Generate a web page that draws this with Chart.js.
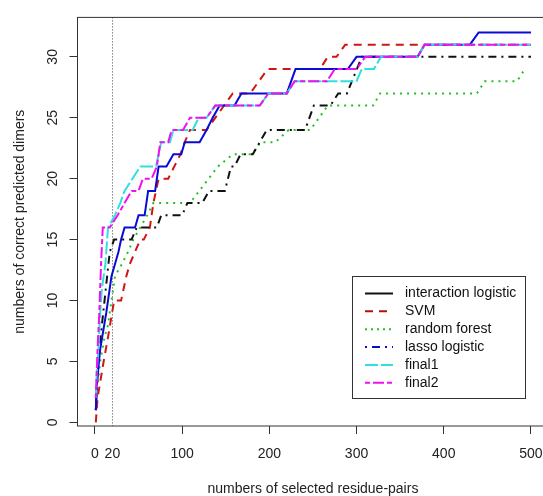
<!DOCTYPE html>
<html>
<head>
<meta charset="utf-8">
<script src="https://cdn.jsdelivr.net/npm/chart.js"></script>
<style>
  html, body { margin: 0; padding: 0; background: #fff; overflow: hidden; }
  #wrap { width: 560px; height: 496px; }
</style>
</head>
<body>
<div id="wrap"><canvas id="chart" width="560" height="496"></canvas></div>
<script>
// ----------------------------
// Values
// ----------------------------
const xTicks = [0, 20, 100, 200, 300, 400, 500];
const yTicks = [0, 5, 10, 15, 20, 25, 30];
const cutoff = 20;

const legendLabels = ["interaction logistic", "SVM", "random forest", "lasso logistic", "final1", "final2"];

// interaction logistic (black)
const interactionX = [1, 3, 5, 11, 17, 22, 42, 48, 71, 76, 100, 106, 123, 131, 149, 156, 160, 167, 181, 197, 241, 251, 270, 279, 289, 306, 500];
const interactionY = [1, 4, 6, 10, 14, 15, 15, 16, 16, 17, 17, 18, 18, 19, 19, 21, 21, 22, 22, 24, 24, 26, 26, 27, 27, 30, 30];

// SVM (red)
const svmX = [1, 3, 10, 15, 22, 30, 36, 40, 46, 52, 56, 63, 67, 73, 84, 98, 103, 109, 128, 158, 178, 198, 258, 267, 277, 287, 500];
const svmY = [0, 2, 5, 7, 10, 10, 12, 13, 14, 15, 15, 16, 18, 20, 20, 22, 23, 24, 24, 27, 27, 29, 29, 30, 30, 31, 31];

// random forest (green)
const forestX = [1, 3, 6, 11, 15, 19, 23, 31, 38, 44, 52, 60, 67, 109, 141, 158, 180, 190, 207, 222, 247, 267, 319, 327, 438, 447, 484, 493];
const forestY = [1, 3, 5, 7, 8, 10, 12, 13, 14, 15, 16, 17, 18, 18, 21, 22, 22, 23, 23, 24, 24, 26, 26, 27, 27, 28, 28, 29];

// lasso logistic (blue)
const lassoX = [1, 2, 6, 13, 19, 27, 30, 34, 46, 50, 57, 61, 69, 73, 82, 90, 99, 103, 120, 128, 135, 143, 160, 168, 220, 230, 290, 300, 370, 378, 430, 440, 500];
const lassoY = [1, 3, 6, 9, 12, 14, 15, 16, 16, 17, 17, 19, 19, 21, 21, 22, 22, 23, 23, 24, 25, 26, 26, 27, 27, 29, 29, 30, 30, 31, 31, 32, 32];

// final1 (cyan)
const final1X = [1, 2, 4, 6, 8, 12, 15, 23, 29, 34, 43, 52, 70, 76, 86, 90, 112, 119, 128, 138, 189, 199, 220, 229, 300, 306, 320, 328, 370, 378, 500];
const final1Y = [2, 4, 6, 9, 11, 13, 16, 17, 18, 19, 20, 21, 21, 23, 23, 24, 24, 25, 25, 26, 26, 27, 27, 28, 28, 29, 29, 30, 30, 31, 31];

// final2 (magenta)
const final2X = [1, 2, 3, 5, 6, 7, 9, 17, 26, 34, 42, 50, 55, 65, 71, 75, 84, 88, 101, 109, 128, 138, 189, 199, 220, 229, 266, 275, 300, 310, 370, 378, 500];
const final2Y = [2, 4, 6, 9, 11, 13, 16, 16, 17, 18, 19, 19, 20, 20, 21, 23, 23, 24, 24, 25, 25, 26, 26, 27, 27, 28, 28, 29, 29, 30, 30, 31, 31];

// ----------------------------
// Styles
// ----------------------------
const colors = ["#111111", "#d01515", "#22c022", "#0b0bd8", "#30e0e0", "#f010f0"];
const plotDash = [[2, 5, 8, 5], [8, 6], [2, 5], [], [13, 3], [5, 3, 11, 3]];
const legendDash = [[], [8, 6], [2, 4], [2, 5, 8, 5], [13, 3], [5, 3, 11, 3]];
const legendColors = ["#111111", "#b01515", "#22c022", "#0b0bd8", "#30e0e0", "#f010f0"];
const drawOrder = [4, 6, 5, 3, 2, 1];

const font = "'Liberation Sans', Arial, sans-serif";

function pts(xs, ys) {
  return xs.map((x, i) => ({ x: x, y: ys[i] }));
}

const series = [
  pts(interactionX, interactionY),
  pts(svmX, svmY),
  pts(forestX, forestY),
  pts(lassoX, lassoY),
  pts(final1X, final1Y),
  pts(final2X, final2Y)
];

// ----------------------------
// Box, cutoff line and legend
// ----------------------------
const framePlugin = {
  id: "frame",
  beforeDatasetsDraw(chart) {
    const { ctx, chartArea: a, scales: { x } } = chart;
    const px = Math.round(x.getPixelForValue(cutoff)) + 0.5;
    ctx.save();
    ctx.strokeStyle = "#444";
    ctx.lineWidth = 1;
    ctx.setLineDash([1, 2]);
    ctx.beginPath();
    ctx.moveTo(px, a.top);
    ctx.lineTo(px, a.bottom);
    ctx.stroke();
    ctx.restore();
  },
  afterDraw(chart) {
    const { ctx, chartArea: a } = chart;
    ctx.save();
    ctx.strokeStyle = "#333";
    ctx.lineWidth = 1;
    ctx.strokeRect(a.left, a.top, a.right - a.left, a.bottom - a.top);

    // legend
    const bx = 352.5, by = 276.5, bw = 173, bh = 122;
    ctx.fillStyle = "#fff";
    ctx.fillRect(bx, by, bw, bh);
    ctx.strokeRect(bx, by, bw, bh);
    ctx.font = "14px " + font;
    ctx.textBaseline = "middle";
    legendLabels.forEach((label, i) => {
      const y = 293.5 + i * 17.85;
      ctx.strokeStyle = legendColors[i];
      ctx.lineWidth = 2;
      ctx.setLineDash(legendDash[i]);
      ctx.beginPath();
      ctx.moveTo(365, y);
      ctx.lineTo(393, y);
      ctx.stroke();
      ctx.setLineDash([]);
      ctx.fillStyle = "#111";
      ctx.fillText(label, 405, y);
    });
    ctx.restore();
  }
};

// ----------------------------
// Chart
// ----------------------------
new Chart(document.getElementById("chart"), {
  type: "line",
  data: {
    datasets: series.map((data, i) => ({
      label: legendLabels[i],
      data: data,
      borderColor: colors[i],
      borderWidth: 2,
      borderDash: plotDash[i],
      pointRadius: 0,
      tension: 0,
      fill: false,
      order: drawOrder[i]
    }))
  },
  options: {
    responsive: false,
    animation: false,
    devicePixelRatio: 1,
    layout: { padding: { top: 10, right: 11.6, left: 0, bottom: 0 } },
    plugins: { legend: { display: false }, tooltip: { enabled: false } },
    scales: {
      x: {
        type: "linear",
        min: -20,
        max: 520,
        afterBuildTicks: (s) => { s.ticks = xTicks.map(v => ({ value: v })); },
        afterFit: (s) => { s.height = 70; },
        border: { display: false },
        grid: {
          drawOnChartArea: false,
          tickLength: 8,
          tickColor: (c) => (c.tick && c.tick.value === cutoff ? "rgba(0,0,0,0)" : "#333")
        },
        ticks: {
          autoSkip: false,
          maxRotation: 0,
          padding: 12,
          color: "#222",
          font: { family: font, size: 14 }
        },
        title: {
          display: true,
          text: "numbers of selected residue-pairs",
          color: "#222",
          font: { family: font, size: 14, lineHeight: 1.05 },
          padding: { top: 0, bottom: 0 }
        }
      },
      y: {
        type: "linear",
        min: -0.3,
        max: 33.24,
        afterBuildTicks: (s) => { s.ticks = yTicks.map(v => ({ value: v })); },
        afterFit: (s) => { s.width = 77.5; },
        border: { display: false },
        grid: { drawOnChartArea: false, tickLength: 8, tickColor: "#333" },
        ticks: {
          minRotation: 90,
          maxRotation: 90,
          crossAlign: "center",
          padding: 9,
          color: "#222",
          font: { family: font, size: 14 }
        },
        title: {
          display: true,
          text: "numbers of correct predicted dimers",
          color: "#222",
          font: { family: font, size: 14 },
          padding: { top: 11.6, bottom: 0 }
        }
      }
    }
  },
  plugins: [framePlugin]
});
</script>
</body>
</html>
